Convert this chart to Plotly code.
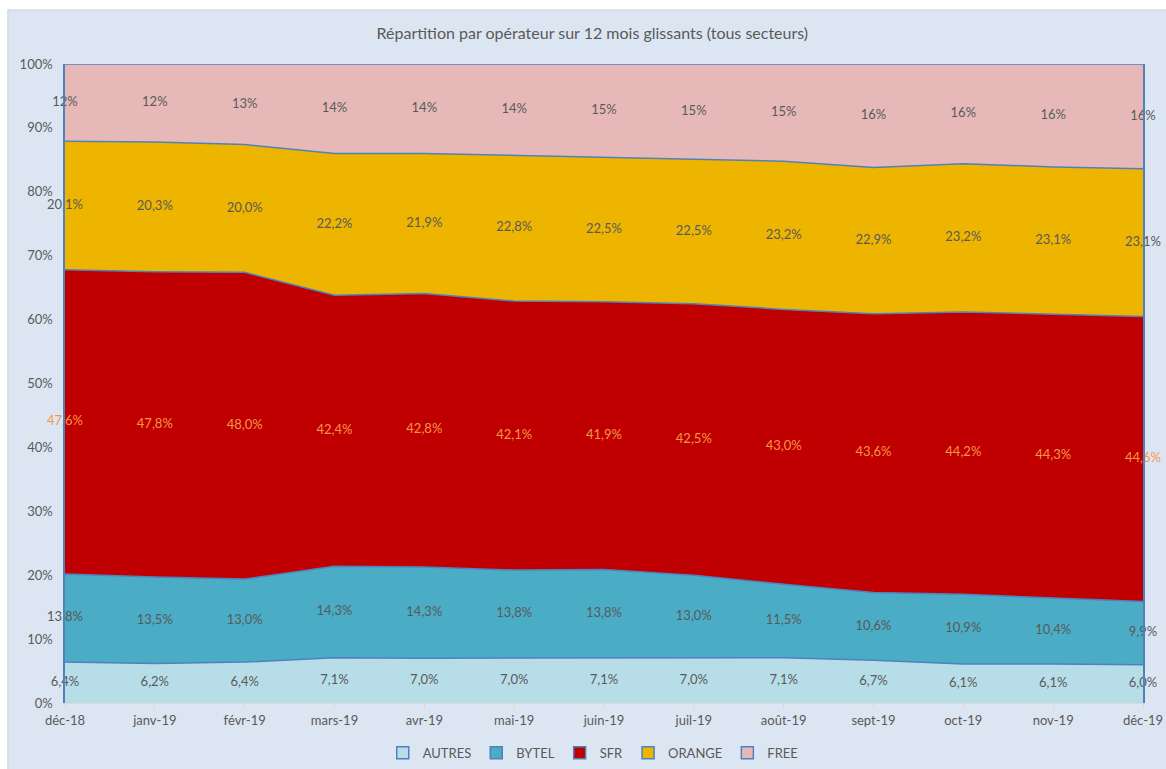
import plotly.graph_objects as go
import numpy as np

months = ["déc-18", "janv-19", "févr-19", "mars-19", "avr-19", "mai-19", "juin-19",
          "juil-19", "août-19", "sept-19", "oct-19", "nov-19", "déc-19"]

autres = [6.4, 6.2, 6.4, 7.1, 7.0, 7.0, 7.1, 7.0, 7.1, 6.7, 6.1, 6.1, 6.0]
bytel = [13.8, 13.5, 13.0, 14.3, 14.3, 13.8, 13.8, 13.0, 11.5, 10.6, 10.9, 10.4, 9.9]
sfr = [47.6, 47.8, 48.0, 42.4, 42.8, 42.1, 41.9, 42.5, 43.0, 43.6, 44.2, 44.3, 44.6]
orange = [20.1, 20.3, 20.0, 22.2, 21.9, 22.8, 22.5, 22.5, 23.2, 22.9, 23.2, 23.1, 23.1]
free = [12.1, 12.2, 12.6, 14.0, 14.0, 14.3, 14.7, 15.0, 15.2, 16.2, 15.6, 16.1, 16.4]

series = [
    ("AUTRES", autres, "#B7DEE8", "#595959", 1),
    ("BYTEL", bytel, "#4BACC6", "#595959", 1),
    ("SFR", sfr, "#C00000", "#F79646", 1),
    ("ORANGE", orange, "#EEB500", "#595959", 1),
    ("FREE", free, "#E6B9B8", "#595959", 0),
]

FONT = "Lato, 'Open Sans', sans-serif"
GREY = "#595959"
EDGE = "#4F81BD"

fig = go.Figure()
x = list(range(len(months)))

for name, vals, fill, _, _ in series:
    fig.add_trace(go.Scatter(
        x=x, y=vals, name=name, mode="lines", stackgroup="s",
        line=dict(color=EDGE, width=1.5), fillcolor=fill,
        hoverinfo="skip", showlegend=False,
    ))

# square legend keys
for name, _, fill, _, _ in series:
    fig.add_trace(go.Bar(
        x=[None], y=[None], name=name,
        marker=dict(color=fill, line=dict(color=EDGE, width=1.5)),
    ))

# value labels centred in each band
base = np.zeros(len(months))
for name, vals, _, tcol, dec in series:
    v = np.array(vals)
    mid = base + v / 2
    if dec:
        txt = [f"{a:.1f}".replace(".", ",") + "%" for a in v]
    else:
        txt = [f"{a:.0f}%" for a in v]
    fig.add_trace(go.Scatter(
        x=x, y=mid, mode="text", text=txt, showlegend=False,
        textfont=dict(family=FONT, size=13, color=tcol), hoverinfo="skip",
        cliponaxis=False,
    ))
    base = base + v

# chart frame
fig.add_shape(type="rect", xref="paper", yref="paper",
              x0=-0.0529, x1=1.03, y0=-0.115, y1=1.0845,
              fillcolor="#DCE6F2", line=dict(color="#D9D9D9", width=1.5),
              layer="below")

fig.update_layout(
    width=1166, height=769,
    margin=dict(l=65, r=23, t=64, b=66, autoexpand=False),
    paper_bgcolor="white", plot_bgcolor="rgba(0,0,0,0)",
    title=dict(text="Répartition par opérateur sur 12 mois glissants (tous secteurs)",
               x=0.508, xanchor="center", y=0.957, yanchor="middle",
               font=dict(family=FONT, size=16, color=GREY)),
    font=dict(family=FONT, size=13, color=GREY),
    legend=dict(orientation="h", x=0.49, xanchor="center",
                yref="container", y=0.021, yanchor="middle",
                font=dict(family=FONT, size=13, color=GREY), traceorder="normal",
                itemwidth=30, bgcolor="rgba(0,0,0,0)"),
    showlegend=True,
)

fig.update_xaxes(
    range=[0, len(months) - 1], tickvals=x, ticktext=months,
    showgrid=False, zeroline=False, showline=True, linecolor="#D9D9D9", linewidth=1,
    ticks="outside", ticklen=5, tickcolor="#D9D9D9",
    tickfont=dict(family=FONT, size=13, color=GREY),
)
fig.update_yaxes(
    range=[0, 100], tickvals=list(range(0, 101, 10)),
    ticktext=[f"{t}%" for t in range(0, 101, 10)],
    showgrid=False, zeroline=False, showline=True, mirror=True,
    linecolor=EDGE, linewidth=1.5, ticks="", ticklabelstandoff=8,
    tickfont=dict(family=FONT, size=13, color=GREY),
)

fig.write_html("out.html")
